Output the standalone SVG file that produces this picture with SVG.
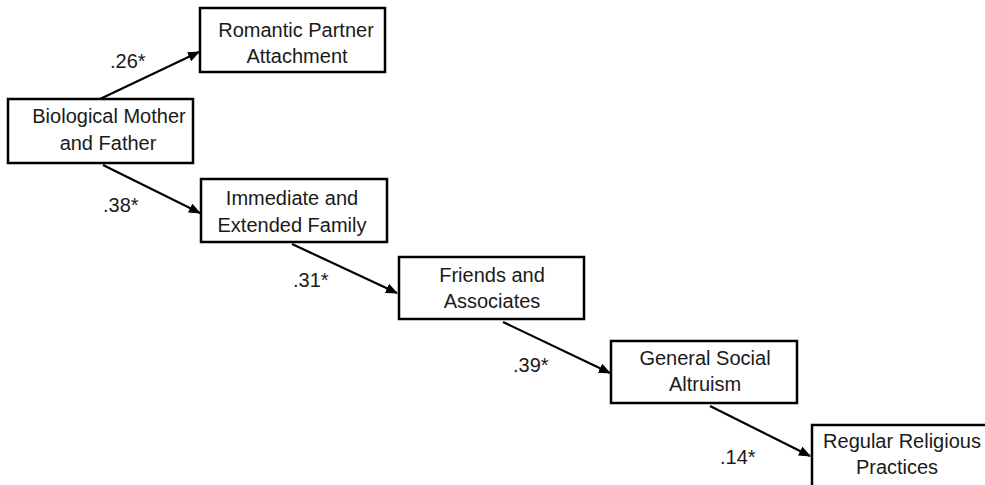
<svg xmlns="http://www.w3.org/2000/svg" width="985" height="485" viewBox="0 0 985 485">
<style>
.box{fill:#fff;stroke:#000;stroke-width:2.5}
.t{font-family:"Liberation Sans",Arial,sans-serif;font-size:20px;fill:#1a1a1a;text-anchor:middle}
.lbl{font-family:"Liberation Sans",Arial,sans-serif;font-size:20px;fill:#1a1a1a}
.c{stroke:#000;stroke-width:2.2;fill:none;marker-end:url(#ah)}
</style>
<defs>
<marker id="ah" markerUnits="userSpaceOnUse" markerWidth="12" markerHeight="10" refX="11" refY="5" orient="auto">
<path d="M0,0 L12,5 L0,10 Z" fill="#000"/>
</marker>
</defs>
<rect width="985" height="485" fill="#fff"/>
<g id="connectors">
<line class="c" x1="100" y1="99" x2="199" y2="52"/>
<line class="c" x1="103" y1="165" x2="200" y2="213"/>
<line class="c" x1="292" y1="244" x2="397" y2="293"/>
<line class="c" x1="503" y1="322" x2="610" y2="373"/>
<line class="c" x1="710" y1="406" x2="810" y2="456"/>
<text class="lbl" x="110" y="68">.26*</text>
<text class="lbl" x="103" y="212">.38*</text>
<text class="lbl" x="293" y="287">.31*</text>
<text class="lbl" x="513" y="372">.39*</text>
<text class="lbl" x="720" y="464">.14*</text>
</g>
<g id="romantic">
<rect class="box" x="200" y="8" width="185" height="64"/>
<text class="t" x="296" y="37">Romantic Partner</text>
<text class="t" x="297" y="63">Attachment</text>
</g>
<g id="biological">
<rect class="box" x="8" y="99" width="185" height="64"/>
<text class="t" x="109" y="123">Biological Mother</text>
<text class="t" x="108" y="150">and Father</text>
</g>
<g id="immediate">
<rect class="box" x="201" y="179" width="186" height="63"/>
<text class="t" x="292" y="205">Immediate and</text>
<text class="t" x="292" y="232">Extended Family</text>
</g>
<g id="friends">
<rect class="box" x="399" y="257" width="185" height="62"/>
<text class="t" x="492" y="282">Friends and</text>
<text class="t" x="492" y="308">Associates</text>
</g>
<g id="altruism">
<rect class="box" x="611" y="341" width="186" height="62"/>
<text class="t" x="705" y="365">General Social</text>
<text class="t" x="705" y="391">Altruism</text>
</g>
<g id="religious">
<rect class="box" x="812" y="425" width="190" height="64"/>
<text class="t" x="902" y="448">Regular Religious</text>
<text class="t" x="897" y="474">Practices</text>
</g>
</svg>
